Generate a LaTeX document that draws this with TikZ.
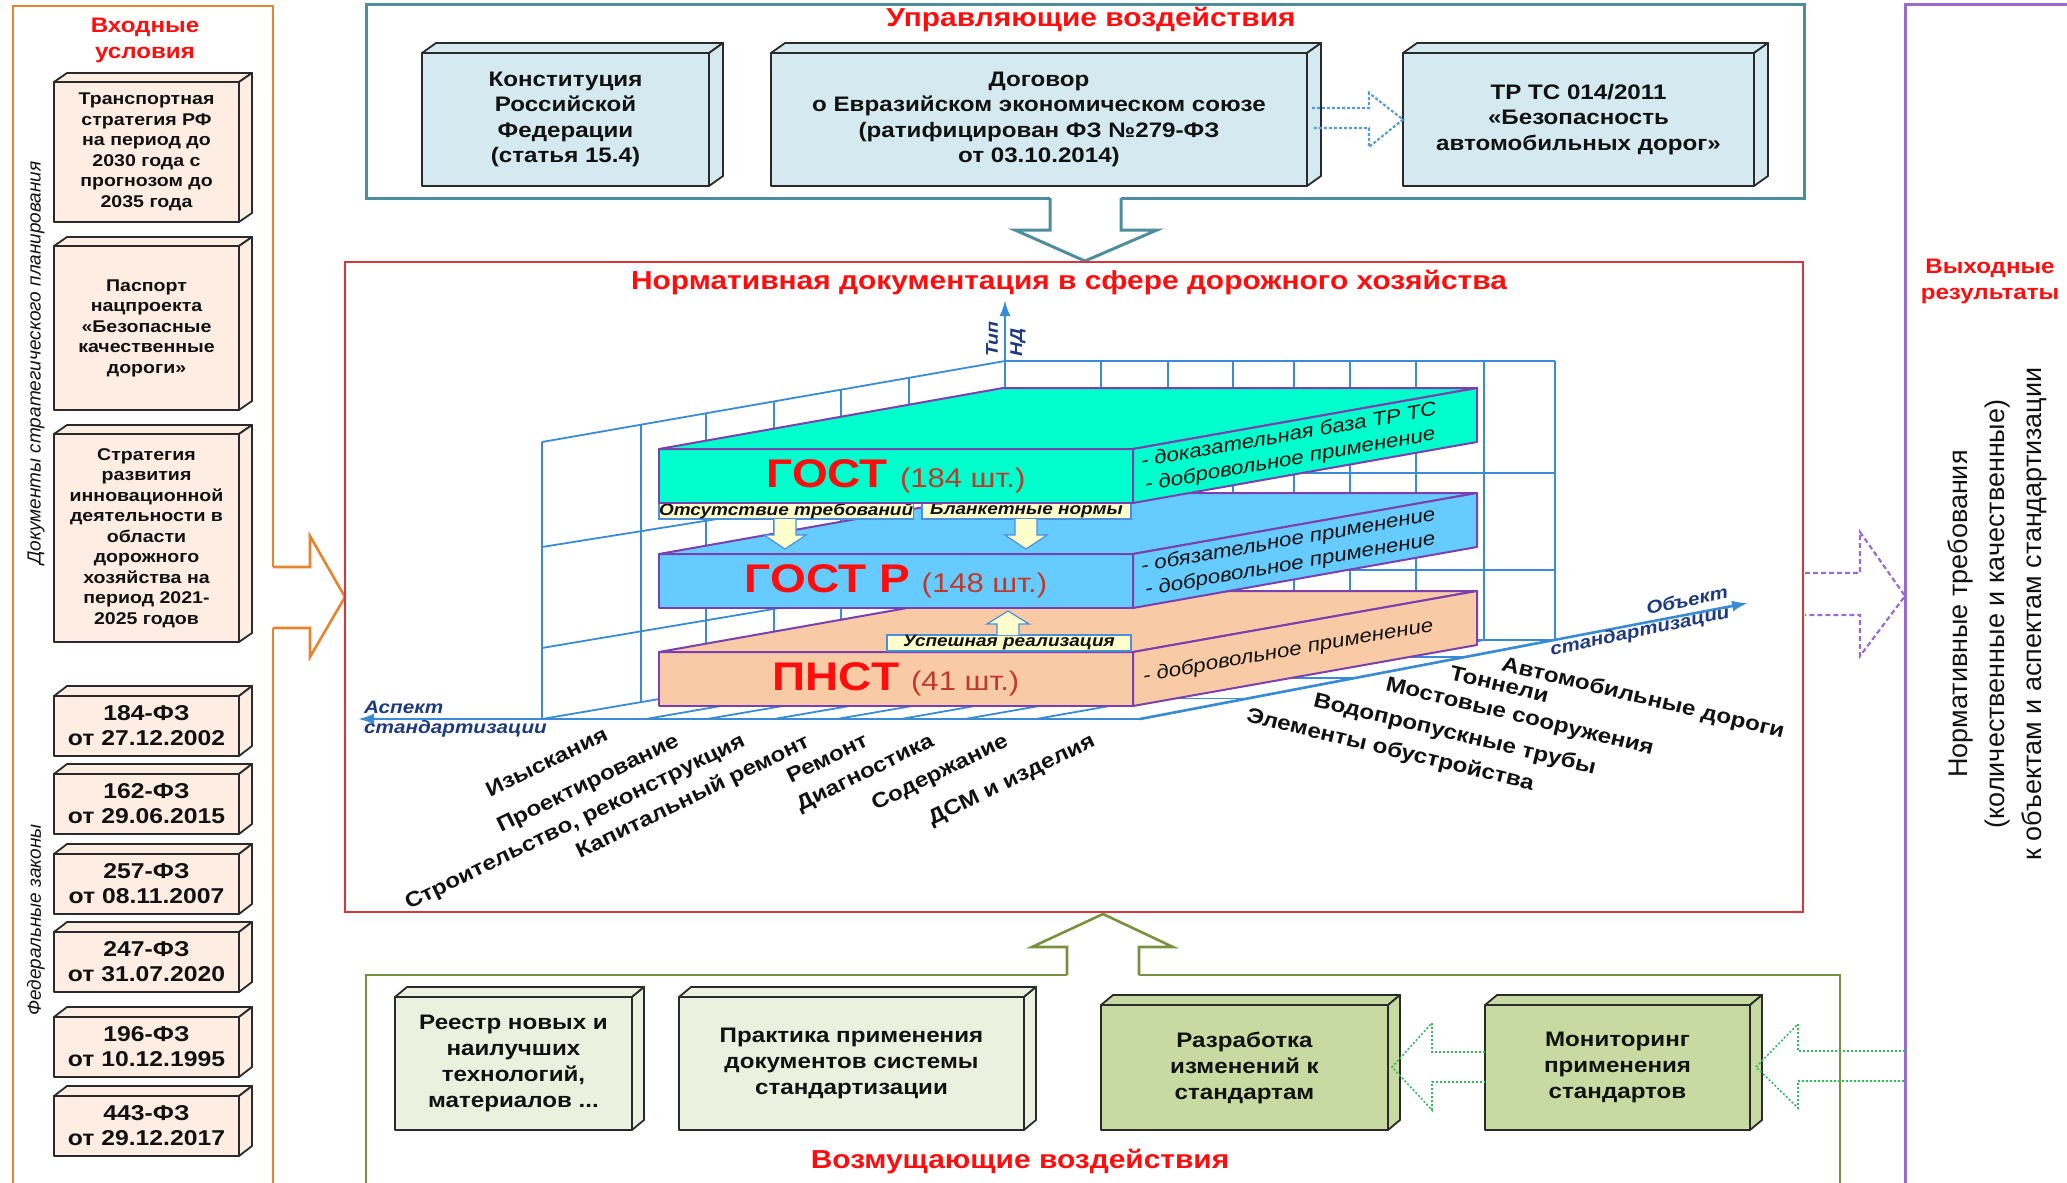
\documentclass[tikz,border=0pt]{standalone}
\usepackage{fontspec}
\setmainfont{Liberation Sans}[FakeStretch=1.15]
\newfontfamily\plainsans{Liberation Sans}
\usetikzlibrary{arrows.meta,calc}

\definecolor{orangec}{HTML}{E5832F}
\definecolor{tealc}{HTML}{4E8D9C}
\definecolor{redc}{HTML}{D8353C}
\definecolor{greenc}{HTML}{77923C}
\definecolor{purplec}{HTML}{9A6CCF}
\definecolor{boxc}{HTML}{2A2A2A}
\definecolor{textc}{HTML}{111111}
\definecolor{leftfill}{HTML}{FDEDE3}
\definecolor{topfill}{HTML}{D4EAF0}
\definecolor{botfill}{HTML}{EBF1DF}
\definecolor{botdarkc}{HTML}{C7DAA2}
\definecolor{titlec}{HTML}{FF0D0D}
\definecolor{cntc}{HTML}{C0392B}
\definecolor{gridc}{HTML}{3A8BD6}
\definecolor{axisc}{HTML}{1E3A7E}
\definecolor{gostc}{HTML}{00FFCC}
\definecolor{gostrc}{HTML}{66CCFF}
\definecolor{pnstc}{HTML}{F8CBA6}
\definecolor{slabc}{HTML}{7B3FAF}
\definecolor{yellowc}{HTML}{FFFFCC}
\definecolor{ylabline}{HTML}{4A90D9}
\definecolor{bluedot}{HTML}{5B9BD5}
\definecolor{greendot}{HTML}{33B85A}

\newcommand\fsz[2]{\fontsize{#1}{#2}\selectfont}
\newcommand\boxfaces[4]{%
  \filldraw[#4] (#1.north west) -- ++(#2,-#3) -- ($(#1.north east)+(#2,-#3)$) -- (#1.north east) -- cycle;
  \filldraw[#4] (#1.north east) -- ++(#2,-#3) -- ($(#1.south east)+(#2,-#3)$) -- (#1.south east) -- cycle;}
\newcommand\slabname[2]{{\fsz{40}{40}\bfseries\color{titlec}#1}\hspace{12pt}{\fsz{27}{27}\color{cntc}(#2~шт.)}}

\tikzset{
  frameo/.style={draw=orangec, line width=2.6pt},
  framet/.style={draw=tealc, line width=3pt},
  framer/.style={draw=redc, line width=2.6pt},
  frameg/.style={draw=greenc, line width=2.6pt},
  framep/.style={draw=purplec, line width=3pt},
  boxline/.style={draw=boxc, line width=1.8pt, line join=round},
  cube/.style={boxline, outer sep=0pt, inner sep=3pt, align=center, anchor=north west, text=textc},
  lefttxt/.style={cube, fill=leftfill, font=\bfseries\fsz{17}{20.5}},
  lawtxt/.style={cube, fill=leftfill, font=\bfseries\fsz{21.5}{25}},
  toptxt/.style={cube, fill=topfill, font=\bfseries\fsz{21}{25.5}},
  bottxt/.style={cube, fill=botfill, font=\bfseries\fsz{21}{26}},
  botdark/.style={bottxt, fill=botdarkc},
  frametitle/.style={text=titlec, font=\bfseries\fsz{26}{30}, inner sep=0pt},
  subtitle/.style={text=titlec, font=\bfseries\fsz{21}{26}, align=center, inner sep=0pt},
  gridl/.style={draw=gridc, line width=1.8pt},
  axisl/.style={draw=gridc, line width=2.6pt, -{Latex[length=16pt,width=11pt]}},
  slabline/.style={draw=slabc, line width=2pt, line join=round},
  slab/.style={slabline, outer sep=0pt, inner sep=0pt, anchor=north west, minimum width=474pt, minimum height=54pt, font=\fsz{27}{27}},
  facetxt/.style={rotate=10, anchor=west, align=left, font=\itshape\fsz{19.5}{24}, text=textc, inner sep=0pt},
  ylab/.style={draw=ylabline, line width=1.2pt, fill=yellowc, anchor=north west, minimum height=16pt, inner sep=0pt, outer sep=0pt, font=\bfseries\itshape\fsz{16.5}{16.5}, text=textc},
  yarrow/.style={draw=ylabline, line width=1.2pt, fill=yellowc, line join=miter},
  asplab/.style={rotate=26, anchor=north east, inner sep=0pt, font=\bfseries\fsz{21}{21}, text=textc},
  objlab/.style={rotate=-13.5, anchor=north west, inner sep=0pt, font=\bfseries\fsz{21}{21}, text=textc},
  axtxt/.style={text=axisc, font=\bfseries\itshape\fsz{18}{19.5}, inner sep=0pt},
  vtxt/.style={rotate=90, text=textc, inner sep=0pt},
  bluearrow/.style={draw=bluedot, line width=2.2pt, dash pattern=on 3pt off 2pt},
  greenarrow/.style={draw=greendot, line width=1.6pt, dash pattern=on 2pt off 2pt},
  purplearrow/.style={draw=purplec, line width=2.2pt, dash pattern=on 5pt off 3pt},
}

\begin{document}
\begin{tikzpicture}[x=1pt,y=-1pt]
\useasboundingbox (0,0) rectangle (2067,1183);
\clip (0,0) rectangle (2067,1183);

% ---------------- frames ----------------
\draw[frameo] (273,567) -- (273,6) -- (13,6) -- (13,1195) -- (273,1195) -- (273,628);
\draw[frameo, fill=white] (273,567) -- (310,567) -- (310,536) -- (345,597) -- (310,657) -- (310,628) -- (273,628);

\draw[framet] (1050,198) -- (366,198) -- (366,4) -- (1804,4) -- (1804,198) -- (1121,198);
\draw[framet, fill=white] (1050,198) -- (1050,230) -- (1015,230) -- (1085,261) -- (1157,230) -- (1121,230) -- (1121,198);

\draw[framer] (345,262) rectangle (1803,912);

\draw[frameg] (1067,975) -- (366,975) -- (366,1195);
\draw[frameg] (1139,975) -- (1840,975) -- (1840,1195);
\draw[frameg, fill=white] (1067,975) -- (1067,947) -- (1032,947) -- (1103,914) -- (1173,947) -- (1139,947) -- (1139,975);

\draw[framep] (1905,4) rectangle (2100,1200);

% ---------------- left column ----------------
\node[subtitle] (inT) at (145,40) {Входные\\условия};
\node[vtxt, font=\plainsans\itshape\fsz{19}{19}] (docsT) at (36,363) {Документы стратегического планирования};
\node[vtxt, font=\plainsans\itshape\fsz{19}{19}] (fzT) at (36,920) {Федеральные законы};

\node[lefttxt, minimum width=185pt, minimum height=140pt] (ts) at (54,82) {Транспортная\\стратегия РФ\\на период до\\2030 года с\\прогнозом до\\2035 года};
\boxfaces{ts}{13}{9}{boxline, fill=leftfill}
\node[lefttxt, minimum width=185pt, minimum height=164pt] (pasp) at (54,246) {Паспорт\\нацпроекта\\«Безопасные\\качественные\\дороги»};
\boxfaces{pasp}{13}{9}{boxline, fill=leftfill}
\node[lefttxt, minimum width=185pt, minimum height=208pt] (strat) at (54,434) {Стратегия\\развития\\инновационной\\деятельности в\\области\\дорожного\\хозяйства на\\период 2021-\\2025 годов};
\boxfaces{strat}{13}{9}{boxline, fill=leftfill}

\node[lawtxt, minimum width=185pt, minimum height=60pt] (fz1) at (54,696) {184-ФЗ\\от 27.12.2002};
\boxfaces{fz1}{13}{10}{boxline, fill=leftfill}
\node[lawtxt, minimum width=185pt, minimum height=60pt] (fz2) at (54,774) {162-ФЗ\\от 29.06.2015};
\boxfaces{fz2}{13}{10}{boxline, fill=leftfill}
\node[lawtxt, minimum width=185pt, minimum height=60pt] (fz3) at (54,854) {257-ФЗ\\от 08.11.2007};
\boxfaces{fz3}{13}{10}{boxline, fill=leftfill}
\node[lawtxt, minimum width=185pt, minimum height=60pt] (fz4) at (54,932) {247-ФЗ\\от 31.07.2020};
\boxfaces{fz4}{13}{10}{boxline, fill=leftfill}
\node[lawtxt, minimum width=185pt, minimum height=60pt] (fz5) at (54,1017) {196-ФЗ\\от 10.12.1995};
\boxfaces{fz5}{13}{10}{boxline, fill=leftfill}
\node[lawtxt, minimum width=185pt, minimum height=60pt] (fz6) at (54,1096) {443-ФЗ\\от 29.12.2017};
\boxfaces{fz6}{13}{10}{boxline, fill=leftfill}

% ---------------- top ----------------
\node[frametitle] (ctrlT) at (1091,20) {Управляющие воздействия};
\node[toptxt, minimum width=287pt, minimum height=133pt] (konst) at (422,53) {Конституция\\Российской\\Федерации\\(статья 15.4)};
\boxfaces{konst}{14}{10}{boxline, fill=topfill}
\node[toptxt, minimum width=536pt, minimum height=133pt] (dogovor) at (771,53) {Договор\\о Евразийском экономическом союзе\\(ратифицирован ФЗ №279-ФЗ\\от 03.10.2014)};
\boxfaces{dogovor}{14}{10}{boxline, fill=topfill}
\node[toptxt, minimum width=351pt, minimum height=133pt] (trts) at (1403,53) {ТР ТС 014/2011\\«Безопасность\\автомобильных дорог»};
\boxfaces{trts}{14}{10}{boxline, fill=topfill}
\draw[bluearrow] (1312,108) -- (1369,108) -- (1369,93) -- (trts.west) -- (1369,147) -- (1369,128) -- (1312,128);

% ---------------- 3D chart ----------------
\node[frametitle] (normT) at (1069,283) {Нормативная документация в сфере дорожного хозяйства};

% back wall
\foreach \x in {1005,1101,1168,1233,1294,1350,1416,1484,1555} \draw[gridl] (\x,361) -- (\x,640);
\foreach \y in {361,473,570,640} \draw[gridl] (1005,\y) -- (1555,\y);
% left wall
\draw[gridl] (542,442) -- (542,719);
\foreach \x/\t/\b in {641/424.7/702.1, 706/413.3/691, 774/401.4/679.4, 841/389.7/668, 909/377.8/656.4} \draw[gridl] (\x,\t) -- (\x,\b);
\draw[gridl] (542,442) -- (1005,361);
\draw[gridl] (542,547) -- (1005,473);
\draw[gridl] (542,648) -- (1005,570);
% floor
\foreach \a/\b in {542/1005,646/1101,707/1168,774/1233,837/1294,901/1350,965/1416,1036/1484,1140/1555} \draw[gridl] (\a,719) -- (\b,640);
\foreach \t in {0.26,0.52,0.78} \draw[gridl] ({542+463*\t},{719-79*\t}) -- ({1140+415*\t},{719-79*\t});

% axes
\coordinate (axO) at (1140,719);
\coordinate (axA) at (358,719);
\coordinate (axB) at (1748,603);
\coordinate (axV0) at (1005,640);
\coordinate (axV) at (1005,300);
\draw[axisl] (axO) -- (axA);
\draw[axisl] (axO) -- (axB);
\draw[axisl] (axV0) -- (axV);

\node[axtxt, rotate=90, anchor=west, font=\bfseries\itshape\fsz{17}{17}] (tipT) at (992,357) {Тип};
\node[axtxt, rotate=90, anchor=west, font=\bfseries\itshape\fsz{17}{17}] (ndT) at (1018,357) {НД};
\node[axtxt, anchor=west, align=left] (aspT) at (364,719) {Аспект\\стандартизации};
\node[axtxt, rotate=12] (objT1) at (1687,600) {Объект};
\node[axtxt, rotate=12] (objT2) at (1640,632) {стандартизации};

% slabs
\node[slab, fill=pnstc] (pnst) at (659,652) {\slabname{ПНСТ}{41}};
\boxfaces{pnst}{344}{61}{slabline, fill=pnstc}
\node[facetxt] (pnstN) at (1143,677) {- добровольное применение};

\node[slab, fill=gostrc] (gostr) at (659,554) {\slabname{ГОСТ Р}{148}};
\boxfaces{gostr}{344}{61}{slabline, fill=gostrc}
\node[facetxt] (gostrN) at (1143,579) {- обязательное применение\\- добровольное применение};

\node[ylab, minimum width=244pt] (lab3) at (887,635) {Успешная реализация};
\draw[yarrow] (997,635) -- (997,624) -- (987,624) -- (1008,611) -- (1029,624) -- (1019,624) -- (1019,635);

\node[ylab, minimum width=251pt] (lab1) at (659,503) {Отсутствие требований};
\node[ylab, minimum width=209pt] (lab2) at (922,503) {Бланкетные нормы};
\draw[yarrow] (774,519) -- (774,535) -- (764,535) -- (785,549) -- (806,535) -- (796,535) -- (796,519);
\draw[yarrow] (1015,519) -- (1015,535) -- (1005,535) -- (1026,549) -- (1047,535) -- (1037,535) -- (1037,519);

\node[slab, fill=gostc] (gost) at (659,449) {\slabname{ГОСТ}{184}};
\boxfaces{gost}{344}{61}{slabline, fill=gostc}
\node[facetxt] (gostN) at (1143,474) {- доказательная база ТР ТС\\- добровольное применение};

% aspect labels
\node[asplab] (a1) at (603,726) {Изыскания};
\node[asplab] (a2) at (674,732) {Проектирование};
\node[asplab] (a3) at (740,732) {Строительство, реконструкция};
\node[asplab] (a4) at (804,732) {Капитальный ремонт};
\node[asplab] (a5) at (863,732) {Ремонт};
\node[asplab] (a6) at (929,732) {Диагностика};
\node[asplab] (a7) at (1003,732) {Содержание};
\node[asplab] (a8) at (1090,732) {ДСМ и изделия};
% object labels
\node[objlab] (o1) at (1504,655) {Автомобильные дороги};
\node[objlab] (o2) at (1452,665) {Тоннели};
\node[objlab] (o3) at (1388,676) {Мостовые сооружения};
\node[objlab] (o4) at (1316,691) {Водопропускные трубы};
\node[objlab] (o5) at (1249,706) {Элементы обустройства};

% ---------------- bottom ----------------
\node[bottxt, minimum width=237pt, minimum height=133pt] (reestr) at (395,997) {Реестр новых и\\наилучших\\технологий,\\материалов ...};
\boxfaces{reestr}{12}{10}{boxline, fill=botfill}
\node[bottxt, minimum width=345pt, minimum height=133pt] (praktika) at (679,997) {Практика применения\\документов системы\\стандартизации};
\boxfaces{praktika}{12}{10}{boxline, fill=botfill}
\node[botdark, minimum width=287pt, minimum height=125pt] (razrab) at (1101,1005) {Разработка\\изменений к\\стандартам};
\boxfaces{razrab}{12}{10}{boxline, fill=botdarkc}
\node[botdark, minimum width=265pt, minimum height=125pt] (monit) at (1485,1005) {Мониторинг\\применения\\стандартов};
\boxfaces{monit}{12}{10}{boxline, fill=botdarkc}
\node[frametitle] (distT) at (1020,1162) {Возмущающие воздействия};

\draw[greenarrow] (monit.west |- 0,1052) -- (1432,1052) -- (1432,1023) -- (1392,1067) -- (1432,1110) -- (1432,1082) -- (monit.west |- 0,1082);
\draw[greenarrow] (1905,1051) -- (1798,1051) -- (1798,1024) -- (1756,1067) -- (1798,1108) -- (1798,1081) -- (1905,1081);

% ---------------- right ----------------
\draw[purplearrow] (1805,573) -- (1860,573) -- (1860,532) -- (1905,596) -- (1860,656) -- (1860,615) -- (1805,615);
\node[subtitle] (outT) at (1990,281) {Выходные\\результаты};
\node[vtxt, align=center, font=\plainsans\fsz{27}{37}] (outReq) at (1997,614) {Нормативные требования\\(количественные и качественные)\\к объектам и аспектам стандартизации};

\end{tikzpicture}
\end{document}
